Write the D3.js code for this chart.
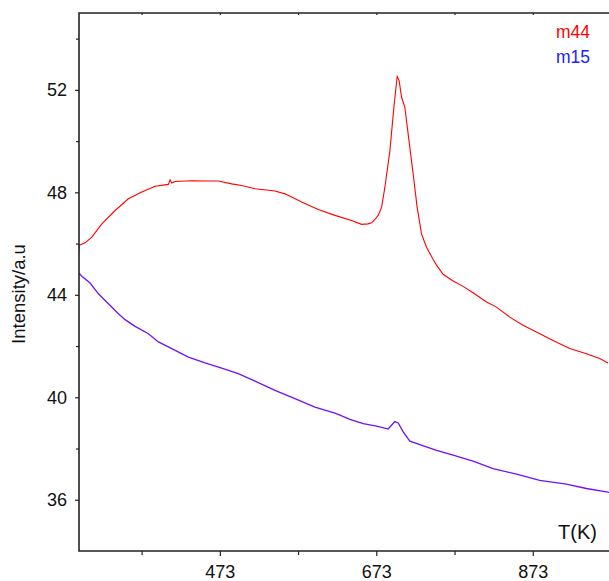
<!DOCTYPE html>
<html>
<head>
<meta charset="utf-8">
<script src="https://cdn.jsdelivr.net/npm/d3@7"></script>
<style>
  body { margin: 0; background: #fff; }
  svg { display: block; font-family: "Liberation Sans", Arial, sans-serif; }
</style>
</head>
<body>
<svg id="chart" width="609" height="581"></svg>
<script>

// =========
// Data
// =========

var m44_temps = [292.3, 293.2, 300.8, 309.4, 322.2, 339.2, 356.1, 373.3, 390.2, 407.2, 409.4, 411.5,
                 415.8, 437.1, 458.3, 471.1, 488.2, 501, 518, 543.5, 556.3, 577.6, 598.8, 620.1,
                 641.4, 654.2, 662.6, 667, 671.2, 675.4, 679.8, 684, 690.4, 695.5, 699.7, 702.2,
                 705.3, 709.5, 713.7, 720.1, 725.2, 730.8, 737.2, 745.7, 750, 758.4, 771.2, 784,
                 796.7, 813.9, 826.6, 843.6, 860.6, 877.7, 898.9, 920.2, 941.6, 958.6, 969.2];
var m44_values = [45.54, 45.93, 46.03, 46.25, 46.77, 47.29, 47.75, 48.01, 48.24, 48.31, 48.49, 48.36,
                  48.42, 48.45, 48.44, 48.44, 48.33, 48.27, 48.14, 48.05, 47.94, 47.62, 47.33, 47.10,
                  46.90, 46.75, 46.77, 46.81, 46.94, 47.10, 47.42, 48.20, 49.63, 51.32, 52.52, 52.36,
                  51.71, 51.32, 50.28, 48.72, 47.42, 46.38, 45.86, 45.38, 45.16, 44.80, 44.54, 44.33,
                  44.08, 43.72, 43.52, 43.13, 42.81, 42.55, 42.22, 41.90, 41.70, 41.51, 41.34];

var m15_temps = [293.2, 296.6, 307.2, 317.8, 330.6, 343.4, 351.9, 364.7, 381.7, 394.5, 411.6, 432.8,
                 454.1, 475.4, 496.6, 518, 543.5, 569, 594.6, 620.1, 626.5, 639.3, 656.3, 673.4,
                 688.2, 696.7, 701, 707.4, 715.9, 728.7, 750, 771.2, 796.7, 822.3, 852.2, 881.9,
                 916, 941.6, 967.1, 973];
var m15_values = [44.85, 44.72, 44.46, 44.04, 43.65, 43.26, 43.03, 42.77, 42.48, 42.16, 41.90, 41.57,
                  41.34, 41.14, 40.92, 40.63, 40.27, 39.95, 39.62, 39.38, 39.30, 39.14, 38.97, 38.87,
                  38.76, 39.05, 39.00, 38.65, 38.29, 38.15, 37.93, 37.74, 37.51, 37.22, 37.00, 36.76,
                  36.61, 36.44, 36.31, 36.27];

var x_major_ticks = [473, 673, 873];
var x_minor_ticks = [373, 573, 773, 973];
var y_major_ticks = [36, 40, 44, 48, 52];
var y_minor_ticks = [38, 42, 46, 50, 54];

var series_names = ['m44', 'm15'];

// =========
// Chart
// =========

var svg = d3.select('#chart');
var plot = {left: 79, right: 611, top: 13, bottom: 551};

var x_scale = d3.scaleLinear().domain([293, 973]).range([plot.left, plot.right]);
var y_scale = d3.scaleLinear().domain([34, 55]).range([plot.bottom, plot.top]);

function zip(xs, ys){
    return xs.map(function(t, i){ return {t: t, v: ys[i]}; });
}

var line = d3.line()
    .x(function(d){ return x_scale(d.t); })
    .y(function(d){ return y_scale(d.v); });

svg.append('clipPath').attr('id', 'clip')
    .append('rect')
    .attr('x', plot.left).attr('y', plot.top)
    .attr('width', plot.right - plot.left).attr('height', plot.bottom - plot.top);

var lines_g = svg.append('g').attr('clip-path', 'url(#clip)');

lines_g.append('path')
    .attr('d', line(zip(m15_temps, m15_values)))
    .attr('fill', 'none')
    .attr('stroke', '#7010ff')
    .attr('stroke-width', 1.3);

lines_g.append('path')
    .attr('d', line(zip(m44_temps, m44_values)))
    .attr('fill', 'none')
    .attr('stroke', '#ff0000')
    .attr('stroke-width', 1.1);

// bottom axis
svg.append('g')
    .attr('transform', 'translate(0,' + plot.bottom + ')')
    .call(d3.axisBottom(x_scale).tickValues(x_major_ticks).tickSize(5).tickPadding(9).tickFormat(d3.format('d')));
svg.append('g')
    .attr('transform', 'translate(0,' + plot.bottom + ')')
    .call(d3.axisBottom(x_scale).tickValues(x_minor_ticks).tickSize(4).tickFormat(''));

// top axis, ticks pointing inward
svg.append('g')
    .attr('transform', 'translate(0,' + plot.top + ')')
    .call(d3.axisBottom(x_scale).tickValues(x_major_ticks.concat(x_minor_ticks)).tickSize(2).tickFormat(''));

// left axis
svg.append('g')
    .attr('transform', 'translate(' + plot.left + ',0)')
    .call(d3.axisLeft(y_scale).tickValues(y_major_ticks).tickSize(4).tickPadding(8));
svg.append('g')
    .attr('transform', 'translate(' + plot.left + ',0)')
    .call(d3.axisLeft(y_scale).tickValues(y_minor_ticks).tickSize(3).tickFormat(''));

svg.selectAll('.domain').remove();
svg.selectAll('.tick line').attr('stroke', '#222').attr('stroke-width', 1.2);
svg.selectAll('.tick text').attr('font-size', 18).attr('fill', '#111')
    .attr('font-family', '"Liberation Sans", Arial, sans-serif');

// frame: left, top, bottom
svg.append('path')
    .attr('d', 'M' + plot.right + ',' + plot.top + 'H' + plot.left + 'V' + plot.bottom + 'H' + plot.right)
    .attr('fill', 'none')
    .attr('stroke', '#222')
    .attr('stroke-width', 1.6);

// labels
svg.append('text')
    .attr('transform', 'translate(25,294) rotate(-90)')
    .attr('text-anchor', 'middle')
    .attr('font-size', 18.5)
    .attr('fill', '#111')
    .text('Intensity/a.u');

svg.append('text')
    .attr('x', 597).attr('y', 539)
    .attr('text-anchor', 'end')
    .attr('font-size', 20)
    .attr('fill', '#111')
    .text('T(K)');

// legend
var legend_colors = ['#ff0000', '#2020ff'];
svg.selectAll('.legend')
    .data(series_names)
    .enter()
    .append('text')
    .attr('class', 'legend')
    .attr('x', 590)
    .attr('y', function(d, i){ return 38 + i * 25; })
    .attr('text-anchor', 'end')
    .attr('font-size', 17.5)
    .attr('fill', function(d, i){ return legend_colors[i]; })
    .text(function(d){ return d; });

</script>
</body>
</html>
